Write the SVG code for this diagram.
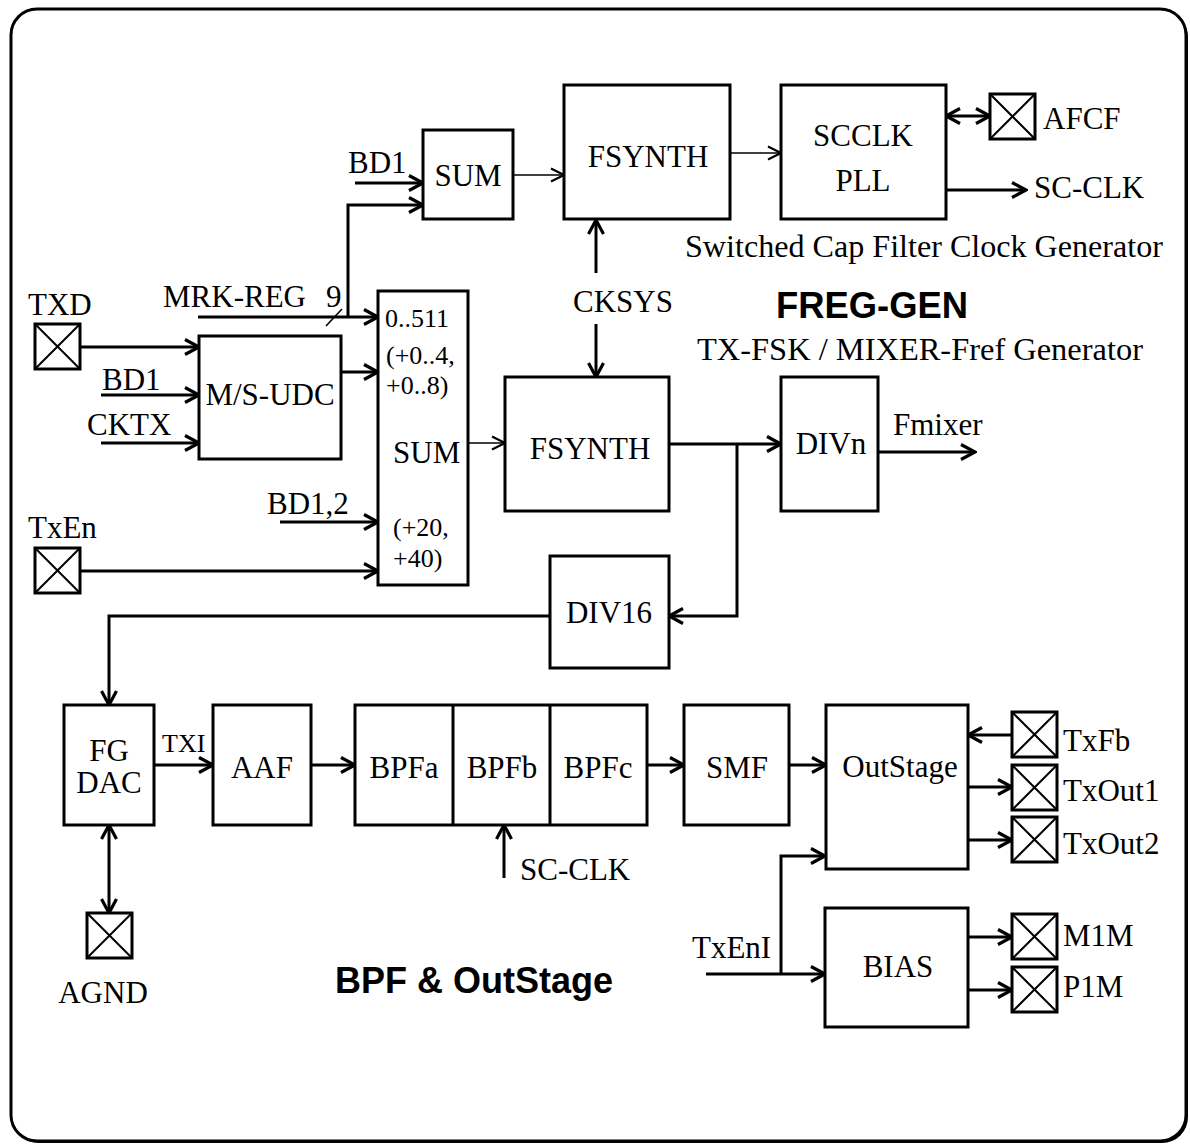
<svg xmlns="http://www.w3.org/2000/svg" width="1190" height="1144" viewBox="0 0 1190 1144">
<style>
.box{fill:#fff;stroke:#000;stroke-width:3}
.pad{fill:#fff;stroke:#000;stroke-width:3}
.x{stroke:#000;stroke-width:2;fill:none}
.w{stroke:#000;stroke-width:3;fill:none}
.th{stroke:#000;stroke-width:1.6;fill:none}
text{font-family:"Liberation Serif","Times New Roman",serif;font-size:31px;fill:#000}
.s{font-size:26px}
.m{text-anchor:middle}
.b{font-family:"Liberation Sans",Arial,sans-serif;font-weight:bold;font-size:36px}
</style>
<defs>
<marker id="a" viewBox="0 0 18 18" refX="16" refY="9" markerWidth="18" markerHeight="18" markerUnits="userSpaceOnUse" orient="auto-start-reverse"><path d="M2,1.5 L16,9 L2,16.5" fill="none" stroke="#000" stroke-width="3.2"/></marker>
<marker id="at" viewBox="0 0 18 18" refX="16" refY="9" markerWidth="18" markerHeight="18" markerUnits="userSpaceOnUse" orient="auto-start-reverse"><path d="M3,2.5 L16,9 L3,15.5" fill="none" stroke="#000" stroke-width="2.2"/></marker>
<g id="padsym"><rect class="pad" x="0" y="0" width="45" height="45"/><path class="x" d="M0,0 L45,45 M45,0 L0,45"/></g>
</defs>
<rect x="13" y="11" width="1175" height="1132" rx="26" fill="#000"/>
<rect x="11" y="9" width="1175" height="1132" rx="26" fill="#fff" stroke="#000" stroke-width="3"/>

<g id="connectors">
<path class="w" d="M355,183 H423" marker-end="url(#a)"/>
<path class="w" d="M348,317 V205 H423" marker-end="url(#a)"/>
<path class="w" d="M198,317 H378" marker-end="url(#a)"/>
<path class="th" d="M326,326 L342,309"/>
<path class="th" d="M513,175 H564" marker-end="url(#at)"/>
<path class="th" d="M730,153 H781" marker-end="url(#at)"/>
<path class="w" d="M946,116 H990" marker-start="url(#a)" marker-end="url(#a)"/>
<path class="w" d="M946,190 H1026" marker-end="url(#a)"/>
<path class="w" d="M596,273 V220" marker-end="url(#a)"/>
<path class="w" d="M596,324 V377" marker-end="url(#a)"/>
<path class="w" d="M80,347 H199" marker-end="url(#a)"/>
<path class="w" d="M101,395 H199" marker-end="url(#a)"/>
<path class="w" d="M101,443 H199" marker-end="url(#a)"/>
<path class="w" d="M341,372 H378" marker-end="url(#a)"/>
<path class="w" d="M280,522 H378" marker-end="url(#a)"/>
<path class="w" d="M80,571 H378" marker-end="url(#a)"/>
<path class="th" d="M468,443 H505" marker-end="url(#at)"/>
<path class="w" d="M669,444 H781" marker-end="url(#a)"/>
<path class="w" d="M737,444 V616 H669" marker-end="url(#a)"/>
<path class="w" d="M878,452 H975" marker-end="url(#a)"/>
<path class="w" d="M550,616 H109 V705" marker-end="url(#a)"/>
<path class="w" d="M154,765 H213" marker-end="url(#a)"/>
<path class="w" d="M311,765 H355" marker-end="url(#a)"/>
<path class="w" d="M504,878 V825" marker-end="url(#a)"/>
<path class="w" d="M647,765 H684" marker-end="url(#a)"/>
<path class="w" d="M789,765 H826" marker-end="url(#a)"/>
<path class="w" d="M1012,735 H968" marker-end="url(#a)"/>
<path class="w" d="M968,787 H1012" marker-end="url(#a)"/>
<path class="w" d="M968,840 H1012" marker-end="url(#a)"/>
<path class="w" d="M706,974 H825" marker-end="url(#a)"/>
<path class="w" d="M781,974 V856 H825" marker-end="url(#a)"/>
<path class="w" d="M968,937 H1012" marker-end="url(#a)"/>
<path class="w" d="M968,990 H1012" marker-end="url(#a)"/>
<path class="w" d="M109,825 V913" marker-start="url(#a)" marker-end="url(#a)"/>
</g>

<g id="sum1"><rect class="box" x="423" y="130" width="90" height="89"/><text x="468" y="186" class="m">SUM</text></g>
<g id="fsynth1"><rect class="box" x="564" y="85" width="166" height="134"/><text x="648" y="167" class="m" font-size="32">FSYNTH</text></g>
<g id="scclk"><rect class="box" x="781" y="85" width="165" height="134"/><text x="863" y="146" class="m">SCCLK</text><text x="863" y="191" class="m">PLL</text></g>
<g id="afcf"><use href="#padsym" x="990" y="94"/><text x="1043" y="129">AFCF</text></g>
<text x="1034" y="198">SC-CLK</text>
<text x="685" y="257" textLength="478" lengthAdjust="spacingAndGlyphs">Switched Cap Filter Clock Generator</text>
<text x="573" y="312">CKSYS</text>
<text x="776" y="318" class="b" textLength="192" lengthAdjust="spacingAndGlyphs">FREG-GEN</text>
<text x="697" y="360" textLength="446" lengthAdjust="spacingAndGlyphs">TX-FSK / MIXER-Fref Generator</text>

<text x="348" y="173">BD1</text>
<text x="163" y="307">MRK-REG</text>
<text x="326" y="307">9</text>

<g id="txd"><text x="28" y="315">TXD</text><use href="#padsym" x="35" y="324"/></g>
<text x="102" y="390">BD1</text>
<text x="87" y="435">CKTX</text>
<g id="msudc"><rect class="box" x="199" y="336" width="142" height="123"/><text x="270" y="405" class="m">M/S-UDC</text></g>
<text x="267" y="514">BD1,2</text>
<g id="txen"><text x="28" y="538">TxEn</text><use href="#padsym" x="35" y="548"/></g>

<g id="sum2"><rect class="box" x="378" y="291" width="90" height="294"/>
<text x="385" y="327" class="s">0..511</text>
<text x="386" y="364" class="s">(+0..4,</text>
<text x="386" y="394" class="s">+0..8)</text>
<text x="393" y="463">SUM</text>
<text x="393" y="536" class="s">(+20,</text>
<text x="393" y="567" class="s">+40)</text></g>

<g id="fsynth2"><rect class="box" x="505" y="377" width="164" height="134"/><text x="590" y="459" class="m" font-size="32">FSYNTH</text></g>
<g id="divn"><rect class="box" x="781" y="377" width="97" height="134"/><text x="831" y="454" class="m">DIVn</text></g>
<text x="893" y="435">Fmixer</text>
<g id="div16"><rect class="box" x="550" y="556" width="119" height="112"/><text x="609" y="623" class="m">DIV16</text></g>

<g id="fgdac"><rect class="box" x="64" y="705" width="90" height="120"/><text x="109" y="761" class="m">FG</text><text x="109" y="793" class="m">DAC</text></g>
<text x="162" y="752" class="s">TXI</text>
<g id="aaf"><rect class="box" x="213" y="705" width="98" height="120"/><text x="262" y="778" class="m">AAF</text></g>
<g id="bpf"><rect class="box" x="355" y="705" width="292" height="120"/><path class="w" d="M453,705 V825 M550,705 V825"/>
<text x="404" y="778" class="m">BPFa</text><text x="502" y="778" class="m">BPFb</text><text x="598" y="778" class="m">BPFc</text></g>
<text x="520" y="880">SC-CLK</text>
<g id="smf"><rect class="box" x="684" y="705" width="105" height="120"/><text x="737" y="778" class="m">SMF</text></g>
<g id="outstage"><rect class="box" x="826" y="705" width="142" height="164"/><text x="900" y="777" class="m">OutStage</text></g>
<g id="txfb"><use href="#padsym" x="1012" y="712"/><text x="1063" y="751">TxFb</text></g>
<g id="txout1"><use href="#padsym" x="1012" y="765"/><text x="1063" y="801">TxOut1</text></g>
<g id="txout2"><use href="#padsym" x="1012" y="817"/><text x="1063" y="854">TxOut2</text></g>
<text x="692" y="958">TxEnI</text>
<g id="bias"><rect class="box" x="825" y="908" width="143" height="119"/><text x="898" y="977" class="m">BIAS</text></g>
<g id="m1m"><use href="#padsym" x="1012" y="914"/><text x="1063" y="946">M1M</text></g>
<g id="p1m"><use href="#padsym" x="1012" y="967"/><text x="1063" y="997">P1M</text></g>
<g id="agnd"><use href="#padsym" x="87" y="913"/><text x="103" y="1003" class="m">AGND</text></g>
<text x="335" y="993" class="b">BPF &amp; OutStage</text>
</svg>
